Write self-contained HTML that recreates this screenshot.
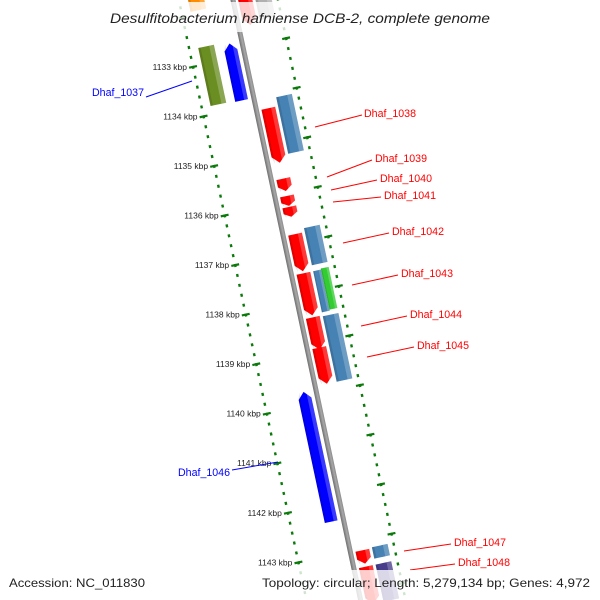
<!DOCTYPE html>
<html><head><meta charset="utf-8"><style>
html,body{margin:0;padding:0;background:#fff;width:600px;height:600px;overflow:hidden;}
svg{display:block;font-family:"Liberation Sans",sans-serif;overflow:hidden;}
</style></head><body>
<svg id="map" width="600" height="600" viewBox="0 0 600 600" xmlns="http://www.w3.org/2000/svg">
<defs>
<linearGradient id="bb" x1="0" x2="1" y1="0" y2="0"><stop offset="0" stop-color="#6e6e6e"/><stop offset="0.6" stop-color="#a8a8a8"/><stop offset="1" stop-color="#8a8a8a"/></linearGradient>
<clipPath id="frame"><rect x="0" y="0" width="600" height="600"/></clipPath>
</defs>
<g clip-path="url(#frame)">
<g id="plot" transform="matrix(0.978,-0.208,0.208,0.978,233,0)"></g>
</g>
<g id="annot"></g>
</svg>
<script>
// gene data (kbp)
const geneNames = ["g-orange","Dhaf_1037","Dhaf_1037b","g-top-red","g-top-gray","Dhaf_1038a","Dhaf_1038","Dhaf_1039","Dhaf_1040","Dhaf_1041","Dhaf_1042a","Dhaf_1042","Dhaf_1043a","Dhaf_1043b","Dhaf_1043","Dhaf_1044","Dhaf_1044a","Dhaf_1045","Dhaf_1046","Dhaf_1047","Dhaf_1048","g-bot-red","g-bot-navy"];
const geneStart = [1131.48,1132.66,1132.70,1131.86,1131.86,1134.11,1133.93,1135.53,1135.88,1136.10,1136.65,1136.57,1137.44,1137.44,1137.42,1138.35,1138.33,1138.94,1139.73,1143.03,1143.01,1143.36,1143.36];
const geneEnd   = [1131.93,1133.83,1133.85,1132.43,1132.37,1135.21,1135.07,1135.78,1136.08,1136.30,1137.40,1137.32,1138.29,1138.27,1138.25,1139.67,1138.98,1139.67,1142.35,1143.30,1143.24,1144.11,1144.11];
const geneTrack = ["LO","LO","LI","RI","RO","RI","RO","RI","RI","RI","RI","RO","RI","ROa","ROb","RO","RI","RI","LI","RI","RO","RI","RO"];
const geneDir   = [0,0,-1,1,0,1,0,1,1,1,1,0,1,0,0,0,1,1,-1,1,0,1,0];
const geneColor = ["#ff8c00","#6b8e23","#0000ff","#ff0000","#b0b0b0","#ff0000","#4682b4","#ff0000","#ff0000","#ff0000","#ff0000","#4682b4","#ff0000","#4682b4","#33cc33","#4682b4","#ff0000","#ff0000","#0000ff","#ff0000","#4682b4","#ff0000","#483d8b"];
const tickKbp = [1131,1132,1133,1134,1135,1136,1137,1138,1139,1140,1141,1142,1143,1144];
const tickLabels = ["1131 kbp","1132 kbp","1133 kbp","1134 kbp","1135 kbp","1136 kbp","1137 kbp","1138 kbp","1139 kbp","1140 kbp","1141 kbp","1142 kbp","1143 kbp","1144 kbp"];

const NS="http://www.w3.org/2000/svg";
const plot=document.getElementById('plot'), annot=document.getElementById('annot'), svg=document.getElementById('map');
const K0=1133, V0=57, PX=50.67;
function vOf(k){return V0+(k-K0)*PX;}
function scr(u,v){return [233+0.978*u+0.208*v, -0.208*u+0.978*v];}
const tracks={LO:[-44,-28],LI:[-19,-6],RI:[5,19],RO:[22,38],ROa:[22,30],ROb:[30,38]};
function mk(tag,attrs,parent){const e=document.createElementNS(NS,tag);for(const k in attrs)e.setAttribute(k,attrs[k]);parent.appendChild(e);return e;}

// backbone
const bb=mk('rect',{x:-2.5,y:-30,width:5,height:660,fill:'url(#bb)'},plot);



// dotted scale tracks
function track(u,tickOff,name){
  const g=mk('g',{},plot);
  
  
  for(let v=-40; v<640; v+=PX/5){
    const vv=v+tickOff%(PX/5);
    mk('rect',{x:u-1.2,y:vv-1.5,width:2.4,height:3,fill:'#0b7a0b'},g);
  }
  for(let v=tickOff-PX*3; v<640; v+=PX){
    mk('rect',{x:u-4,y:v-1,width:8,height:2.2,fill:'#0b7a0b'},g);
  }
}
track(-53,V0,'left-scale-track');
track(44,99,'right-scale-track');

// genes
for(let i=0;i<geneNames.length;i++){
  const [u0,u1]=tracks[geneTrack[i]];
  const v0=vOf(geneStart[i]), v1=vOf(geneEnd[i]);
  const g=mk('g',{},plot);
  
  
  const c=geneColor[i], w=u1-u0, um=(u0+u1)/2;
  let pts;
  const a=Math.min(7,(v1-v0)*0.4);
  if(geneDir[i]===1) pts=[[u0,v0],[u1,v0],[u1,v1-a],[um,v1],[u0,v1-a]];
  else if(geneDir[i]===-1) pts=[[um,v0],[u1,v0+a],[u1,v1],[u0,v1],[u0,v0+a]];
  else pts=[[u0,v0],[u1,v0],[u1,v1],[u0,v1]];
  mk('polygon',{points:pts.map(p=>p.join(',')).join(' '),fill:c},g);
  mk('polygon',{points:pts.map(p=>[Math.max(p[0],u1-w*0.3),p[1]].join(',')).join(' '),fill:'#fff','fill-opacity':0.22},g);
  mk('polygon',{points:pts.map(p=>[Math.min(p[0],u0+w*0.15),p[1]].join(',')).join(' '),fill:'#000','fill-opacity':0.12},g);
}

// tick labels
for(let i=0;i<tickKbp.length;i++){
  const [x,y]=scr(-53,vOf(tickKbp[i]));
  if(y<50||y>575) continue;
  const t=mk('text',{x:x-6,y:y+3,'text-anchor':'end','font-size':'8.5',fill:'#222'},annot);
  t.textContent=tickLabels[i];
  
  
}

// gene labels
const labNames=["Dhaf_1037","Dhaf_1038","Dhaf_1039","Dhaf_1040","Dhaf_1041","Dhaf_1042","Dhaf_1043","Dhaf_1044","Dhaf_1045","Dhaf_1046","Dhaf_1047","Dhaf_1048"];
const labColor=["#0000ff","#ff0000","#ff0000","#ff0000","#ff0000","#ff0000","#ff0000","#ff0000","#ff0000","#0000ff","#ff0000","#ff0000"];
const labText=[[92,96],[364,117],[375,162],[380,182],[384,199],[392,235],[401,277],[410,318],[417,349],[178,476],[454,546],[458,566]];
const labLine=[[146,97,192,81],[315,127,362,115],[327,177,372,160],[331,190,377,180],[333,202,381,197],[343,243,389,233],[352,285,398,275],[361,326,407,316],[367,357,414,347],[232,470,278,462],[404,551,451,544],[410,570,455,564]];
for(let i=0;i<labNames.length;i++){
  const l=labLine[i];
  const ln=mk('line',{x1:l[0],y1:l[1],x2:l[2],y2:l[3],stroke:labColor[i],'stroke-width':1},annot);
  
  
  const t=mk('text',{x:labText[i][0],y:labText[i][1],'font-size':'11',fill:labColor[i],textLength:52,lengthAdjust:'spacingAndGlyphs'},annot);
  t.textContent=labNames[i];
  
  
}

// title and footer bands
const tb=mk('rect',{x:105,y:2,width:390,height:30,fill:'#fff','fill-opacity':0.8},svg);


const tt=mk('text',{x:110,y:23,'font-size':'14','font-style':'italic',fill:'#222',textLength:380,lengthAdjust:'spacingAndGlyphs'},svg);
tt.textContent='Desulfitobacterium hafniense DCB-2, complete genome';


const fb=mk('rect',{x:0,y:570,width:600,height:30,fill:'#fff','fill-opacity':0.8},svg);


const f1=mk('text',{x:9,y:587,'font-size':'12',fill:'#222',textLength:136,lengthAdjust:'spacingAndGlyphs'},svg);
f1.textContent='Accession: NC_011830';


const f2=mk('text',{x:262,y:587,'font-size':'12',fill:'#222',textLength:328,lengthAdjust:'spacingAndGlyphs'},svg);
f2.textContent='Topology: circular; Length: 5,279,134 bp; Genes: 4,972';


</script>
</body></html>
